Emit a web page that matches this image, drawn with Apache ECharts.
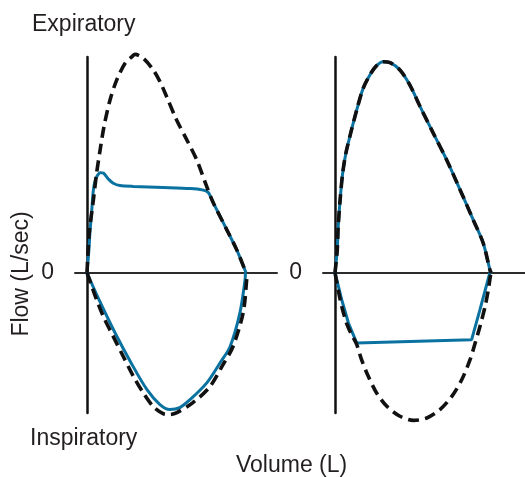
<!DOCTYPE html>
<html>
<head>
<meta charset="utf-8">
<script src="https://cdn.jsdelivr.net/npm/echarts@6/dist/echarts.min.js"></script>
<style>
html,body{margin:0;padding:0;background:#fff;}
#chart{width:525px;height:477px;}
</style>
</head>
<body>
<div id="chart"></div>
<script>
// Volume (L), Flow (L/sec) pairs
var leftNormalExp = [[0,0],[0.07,1.84],[0.2,3.38],[0.3,4.62],[0.41,5.69],[0.53,6.77],[0.72,8.01],[0.93,8.94],[1.19,9.71],[1.4,10.01],[1.5,10.12],[1.76,9.94],[2.07,9.4],[2.28,8.86],[2.49,8.16],[2.8,7.08],[3.12,6.16],[3.43,5.23],[3.74,4.0],[3.95,3.23],[4.37,1.99],[4.68,1.06],[4.97,0]];
var leftNormalInsp = [[0,0],[0.15,-0.63],[0.3,-1.25],[0.51,-2.02],[0.82,-2.95],[1.13,-3.87],[1.45,-4.8],[1.76,-5.57],[2.07,-6.2],[2.38,-6.53],[2.59,-6.57],[2.81,-6.48],[3.31,-6.02],[3.84,-5.28],[4.25,-4.26],[4.56,-3.43],[4.88,-1.85],[4.99,-0.32],[5.0,0]];
var leftObsExp = [[0,0],[0.06,1.06],[0.09,1.84],[0.15,2.92],[0.2,3.84],[0.28,4.38],[0.41,4.64],[0.51,4.62],[0.67,4.34],[0.82,4.15],[1.03,4.04],[1.45,4.0],[2.38,3.95],[3.22,3.9],[3.6,3.84],[3.79,3.72],[3.95,3.23],[4.37,1.99],[4.68,1.06],[4.97,0]];
var leftObsInsp = [[0,0],[0.375,-1.25],[0.875,-2.78],[1.375,-4.17],[1.875,-5.42],[2.28,-6.11],[2.59,-6.34],[2.9,-6.25],[3.22,-5.88],[3.75,-5.09],[4.16,-4.17],[4.47,-3.43],[4.78,-1.85],[4.94,-0.32],[4.95,0]];

var rightNormalExp = [[0,0],[0.07,1.06],[0.1,2.14],[0.16,3.38],[0.24,4.62],[0.34,5.54],[0.49,6.47],[0.68,7.55],[0.88,8.55],[1.09,9.17],[1.3,9.6],[1.51,9.78],[1.72,9.74],[2.03,9.4],[2.34,8.7],[2.66,7.7],[3.07,6.47],[3.49,5.23],[3.91,3.84],[4.32,2.45],[4.63,1.38],[4.84,0.14],[4.88,0]];
var rightNormalInsp = [[0,0],[0.1,-0.79],[0.21,-1.56],[0.36,-2.33],[0.52,-2.87],[0.68,-3.33],[0.83,-4.03],[1.04,-4.8],[1.3,-5.57],[1.62,-6.19],[2.03,-6.65],[2.45,-6.84],[2.87,-6.73],[3.28,-6.34],[3.65,-5.73],[3.96,-4.96],[4.22,-4.03],[4.38,-3.26],[4.53,-2.49],[4.69,-1.56],[4.79,-0.79],[4.87,0]];
var rightObsExp = [[0,0],[0.07,1.06],[0.1,2.14],[0.16,3.38],[0.24,4.62],[0.34,5.54],[0.49,6.47],[0.68,7.55],[0.88,8.55],[1.09,9.17],[1.3,9.6],[1.51,9.78],[1.72,9.74],[2.03,9.4],[2.34,8.7],[2.66,7.7],[3.07,6.47],[3.49,5.23],[3.91,3.84],[4.32,2.45],[4.63,1.38],[4.84,0.14],[4.86,0]];
var rightObsInsp = [[0,0],[0.21,-1.25],[0.42,-2.33],[0.68,-3.26],[4.27,-3.1],[4.53,-1.71],[4.84,0]];

var yTickLabels = [0];

var FONT = "'Liberation Sans', Arial, Helvetica, sans-serif";
var TEXT = '#231f20';
var BLUE = '#0a72a0';

function xAx(gi){
  return {
    type:'value', gridIndex:gi, min:-0.375, max:5.9375,
    axisLine:{show:true, onZero:true, lineStyle:{color:'#2b2b2b', width:2}},
    axisTick:{show:false}, axisLabel:{show:false}, splitLine:{show:false}
  };
}
function yAx(gi){
  return {
    type:'value', gridIndex:gi, min:-6.5, max:10,
    axisLine:{show:true, onZero:true, lineStyle:{color:'#111', width:2.5}},
    axisTick:{show:false}, splitLine:{show:false},
    axisLabel:{show:true, customValues:yTickLabels, margin:21, fontSize:23, color:TEXT, fontFamily:FONT,
      formatter:function(v){ return String(v); }}
  };
}
function blue(data, gi, smooth){
  return {type:'line', xAxisIndex:gi, yAxisIndex:gi, data:data, smooth:smooth, symbol:'none', clip:false, z:2,
    lineStyle:{color:BLUE, width:3}};
}
function dashed(data, gi){
  return {type:'line', xAxisIndex:gi, yAxisIndex:gi, data:data, smooth:0.3, symbol:'none', clip:false, z:3,
    lineStyle:{color:'#111', width:3.6, type:[11,6]}};
}

var chart = echarts.init(document.getElementById('chart'), null, {renderer:'canvas'});
chart.setOption({
  animation:false,
  backgroundColor:'#fff',
  grid:[
    {left:75, top:57, width:202, height:356},
    {left:323, top:57, width:202, height:356}
  ],
  xAxis:[xAx(0), xAx(1)],
  yAxis:[yAx(0), yAx(1)],
  series:[
    blue(leftObsExp, 0, 0.25),
    blue(leftObsInsp, 0, 0.3),
    dashed(leftNormalExp, 0),
    dashed(leftNormalInsp, 0),
    blue(rightObsExp, 1, 0.3),
    blue(rightObsInsp, 1, false),
    dashed(rightNormalExp, 1),
    dashed(rightNormalInsp, 1)
  ],
  graphic:[
    {type:'text', left:32, top:13, style:{text:'Expiratory', font:'23px '+FONT, fill:TEXT}},
    {type:'text', left:30, top:427, style:{text:'Inspiratory', font:'23px '+FONT, fill:TEXT}},
    {type:'text', left:236, top:454, style:{text:'Volume (L)', font:'23px '+FONT, fill:TEXT}},
    {type:'text', x:22, y:274, rotation:Math.PI/2, style:{text:'Flow (L/sec)', font:'23px '+FONT, fill:TEXT, align:'center', verticalAlign:'middle'}}
  ]
});
</script>
</body>
</html>
